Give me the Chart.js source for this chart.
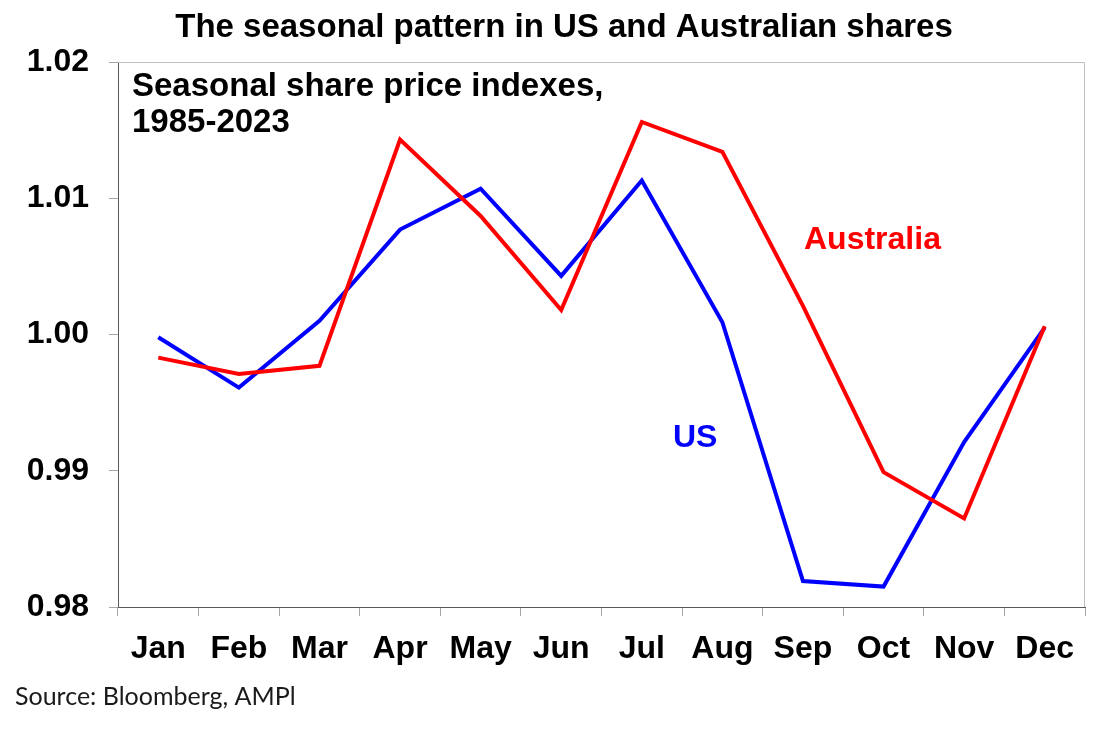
<!DOCTYPE html>
<html>
<head>
<meta charset="utf-8">
<script src="https://cdn.jsdelivr.net/npm/chart.js@4.4.1/dist/chart.umd.min.js"></script>
<style>
  html, body { margin: 0; padding: 0; background: #ffffff; }
  #wrap { position: relative; width: 1120px; height: 729px; }
</style>
</head>
<body>
<div id="wrap"><canvas id="c"></canvas></div>
<script>
const months = ['Jan','Feb','Mar','Apr','May','Jun','Jul','Aug','Sep','Oct','Nov','Dec'];
const australia = [0.9983, 0.9971, 0.9977, 1.0143, 1.0087, 1.0018, 1.0156, 1.0134, 1.0021, 0.9899, 0.9865, 1.0006];
const us = [0.9998, 0.9961, 1.0010, 1.0077, 1.0107, 1.0043, 1.0113, 1.0009, 0.9819, 0.9815, 0.9921, 1.0005];
const yTicks = [0.98, 0.99, 1.00, 1.01, 1.02];

const titleText = 'The seasonal pattern in US and Australian shares';
const noteLines = ['Seasonal share price indexes,', '1985-2023'];
const sourceText = 'Source: Bloomberg, AMPl';

const BOLD = '"Liberation Sans", Arial, sans-serif';

const textPlugin = {
  id: 'texts',
  beforeDatasetsDraw(chart) {
    const ctx = chart.ctx, a = chart.chartArea;
    ctx.save();
    ctx.strokeStyle = '#bfbfbf';
    ctx.lineWidth = 1;
    ctx.beginPath();
    ctx.moveTo(a.left, a.top + 0.5);
    ctx.lineTo(a.right - 0.5, a.top + 0.5);
    ctx.lineTo(a.right - 0.5, a.bottom);
    ctx.stroke();
    ctx.restore();
  },
  afterDraw(chart) {
    const ctx = chart.ctx, a = chart.chartArea;
    ctx.save();
    ctx.fillStyle = '#000';
    ctx.textBaseline = 'middle';
    ctx.textAlign = 'center';
    ctx.font = 'bold 33px ' + BOLD;
    ctx.fillText(titleText, 564, 28);
    ctx.textAlign = 'left';
    ctx.font = 'bold 33px ' + BOLD;
    ctx.fillText(noteLines[0], a.left + 14, 87);
    ctx.fillText(noteLines[1], a.left + 14, 123);
    ctx.font = 'bold 32px ' + BOLD;
    ctx.fillStyle = '#ff0000';
    ctx.fillText('Australia', 804, 240);
    ctx.fillStyle = '#0000ff';
    ctx.fillText('US', 673, 438);
    ctx.fillStyle = '#1a1a1a';
    ctx.font = '25px Lato, "Open Sans", sans-serif';
    ctx.fillText(sourceText, 15, 697);
    ctx.restore();
  }
};

new Chart(document.getElementById('c'), {
  type: 'line',
  data: {
    labels: months,
    datasets: [
      { label: 'Australia', data: australia, borderColor: '#ff0000', borderWidth: 4, pointRadius: 0, tension: 0, fill: false },
      { label: 'US', data: us, borderColor: '#0000ff', borderWidth: 4, pointRadius: 0, tension: 0, fill: false }
    ]
  },
  options: {
    responsive: true,
    maintainAspectRatio: false,
    animation: false,
    devicePixelRatio: 1,
    layout: { padding: { left: 0, top: 62, right: 35, bottom: 52 } },
    plugins: { legend: { display: false }, tooltip: { enabled: false }, title: { display: false } },
    scales: {
      x: {
        offset: true,
        grid: { display: true, offset: true, drawOnChartArea: false, drawTicks: true, tickLength: 9, color: '#a6a6a6' },
        border: { display: true, color: '#595959', width: 1 },
        ticks: { color: '#000', font: { family: BOLD, size: 32, weight: 'bold' }, padding: 14, maxRotation: 0, autoSkip: false },
        afterFit(s) { s.height = 70; }
      },
      y: {
        min: 0.98, max: 1.02,
        afterBuildTicks(s) { s.ticks = yTicks.map(v => ({ value: v })); },
        grid: { display: true, drawOnChartArea: false, drawTicks: true, tickLength: 9, color: '#a6a6a6' },
        border: { display: true, color: '#595959', width: 1 },
        ticks: { color: '#000', font: { family: BOLD, size: 32, weight: 'bold' }, padding: 20, callback: v => Number(v).toFixed(2) },
        afterFit(s) { s.width = 118; }
      }
    }
  },
  plugins: [textPlugin]
});
</script>
</body>
</html>
